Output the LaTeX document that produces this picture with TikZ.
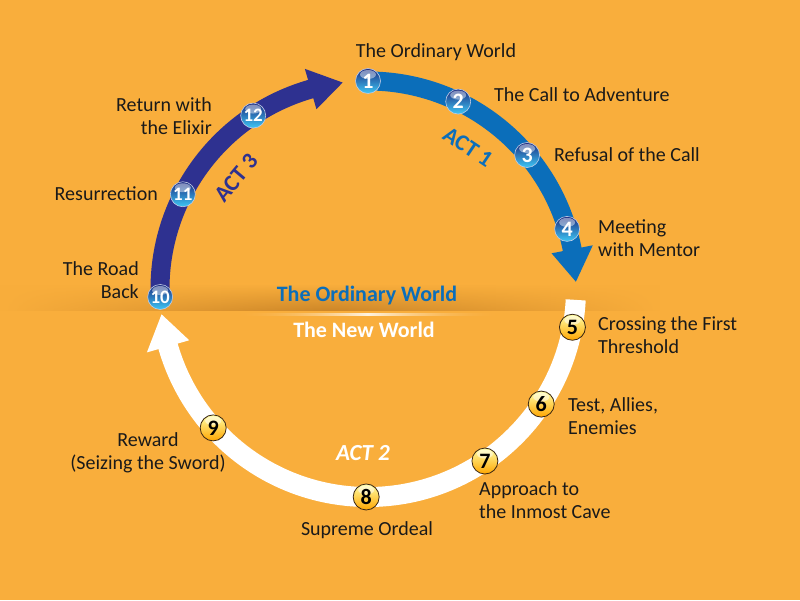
\documentclass[tikz,border=0pt]{standalone}
\usepackage{fontspec}
\setmainfont{Carlito}
\usetikzlibrary{fadings}
\definecolor{bg}{HTML}{F9AE3C}
\definecolor{shadowc}{HTML}{CC8628}
\definecolor{actone}{HTML}{0B6EBA}
\definecolor{actthree}{HTML}{2E3190}
\definecolor{balltop}{HTML}{1C2A80}
\definecolor{ballmid}{HTML}{2F56B0}
\definecolor{ballbot}{HTML}{3EC8F5}
\definecolor{txt}{HTML}{1A1A1A}
\tikzfading[name=fadelr, left color=transparent!100, right color=transparent!100, middle color=transparent!0]
\tikzset{
  lbl/.style={inner sep=0pt, font=\fontsize{20}{23.5}\selectfont, text=txt},
  bluedot/.style={circle, minimum size=25pt, inner sep=0pt, draw=white!70!ballmid, line width=0.6pt,
    top color=balltop, middle color=ballmid, bottom color=ballbot,
    font=\fontsize{22}{22}\selectfont\bfseries, text=white,
    path picture={\fill[white,opacity=0.45] ([yshift=-6pt]path picture bounding box.north) ellipse (8pt and 4.5pt);}},
  twodigit/.style={font=\fontsize{19}{19}\selectfont\bfseries},
  golddot/.style={circle, minimum size=26pt, inner sep=0pt, draw=black!70!brown, line width=0.8pt,
    top color=yellow!35!white, middle color=yellow!80!orange, bottom color=orange!70!yellow,
    font=\fontsize{22}{22}\selectfont\bfseries, text=black,
    path picture={\fill[white,opacity=0.5] ([yshift=-6pt]path picture bounding box.north) ellipse (8pt and 4.5pt);}},
  band/.style={line width=19pt},
  actlbl/.style={inner sep=0pt, font=\fontsize{23}{23}\selectfont\bfseries},
}
\begin{document}
\begin{tikzpicture}[x=1pt,y=1pt]
\fill[bg] (0,0) rectangle (800,600);
\useasboundingbox (0,0) rectangle (800,600);
\coordinate (C) at (368,311);
% horizon shadow
\shade[top color=bg, bottom color=shadowc, path fading=fadelr] (0,289) rectangle (660,316);
\shade[left color=bg, right color=bg, middle color=white!85!bg, path fading=fadelr] (230,284.2) rectangle (505,286);
% act bands
\draw[band, actone] ([shift={(90:208)}]C) arc[start angle=90, end angle=10.5, radius=208];
\fill[actone] ([shift={(11:229)}]C) -- ([shift={(2:208)}]C) -- ([shift={(11:187)}]C) -- cycle;
\draw[band, actthree] ([shift={(182:208)}]C) arc[start angle=182, end angle=105.5, radius=208];
\fill[actthree] ([shift={(106:229)}]C) -- ([shift={(97:208)}]C) -- ([shift={(106:187)}]C) -- cycle;
\draw[line width=20pt, white] ([shift={(-3:208)}]C) arc[start angle=-3, end angle=-164.5, radius=208];
\fill[white] ([shift={(-164:230)}]C) -- ([shift={(-173:208)}]C) -- ([shift={(-164:186)}]C) -- cycle;
% world labels
\node[inner sep=0pt, font=\fontsize{22}{22}\selectfont\bfseries, text=actone] (ow) at (367,304) {The Ordinary World};
\node[inner sep=0pt, font=\fontsize{22}{22}\selectfont\bfseries, text=white] (nw) at (364,270) {The New World};
% act labels
\node[actlbl, text=actone, rotate=-34] (a1) at (468,453) {ACT 1};
\node[actlbl, text=white, font=\fontsize{23}{23}\selectfont\bfseries\itshape] (a2) at (363,147) {ACT 2};
\node[actlbl, text=actthree, rotate=50] (a3) at (236,422) {ACT 3};
% stage dots
\node[bluedot] (n1) at ([shift={(90:208)}]C) {1};
\node[bluedot] (n2) at ([shift={(64.3:208)}]C) {2};
\node[bluedot] (n3) at ([shift={(40.1:208)}]C) {3};
\node[bluedot] (n4) at ([shift={(16.8:208)}]C) {4};
\node[golddot] (n5) at ([shift={(-10.6:208)}]C) {5};
\node[golddot] (n6) at ([shift={(-33.6:208)}]C) {6};
\node[golddot] (n7) at ([shift={(-55.8:208)}]C) {7};
\node[golddot] (n8) at ([shift={(-90.5:208)}]C) {8};
\node[golddot] (n9) at ([shift={(221.9:208)}]C) {9};
\node[bluedot, twodigit] (n10) at ([shift={(182.2:208)}]C) {10};
\node[bluedot, twodigit] (n11) at ([shift={(152.9:208)}]C) {11};
\node[bluedot, twodigit] (n12) at ([shift={(123.5:208)}]C) {12};
% stage labels
\node[lbl] (l1) at (436,548) {The Ordinary World};
\node[lbl, anchor=west] (l2) at (494,505) {The Call to Adventure};
\node[lbl, anchor=west] (l3) at (554,445) {Refusal of the Call};
\node[lbl, anchor=west, align=left] (l4) at (598,362) {Meeting\\with Mentor};
\node[lbl, anchor=west, align=left] (l5) at (598,265) {Crossing the First\\Threshold};
\node[lbl, anchor=west, align=left] (l6) at (568,184) {Test, Allies,\\Enemies};
\node[lbl, anchor=west, align=left] (l7) at (479,100) {Approach to\\the Inmost Cave};
\node[lbl] (l8) at (367,70) {Supreme Ordeal};
\node[lbl, align=center] (l9) at (148,147) {Reward\\(Seizing the Sword)};
\node[lbl, anchor=east, align=right] (l10) at (139,320) {The Road\\Back};
\node[lbl, anchor=east] (l11) at (158,406) {Resurrection};
\node[lbl, anchor=east, align=right] (l12) at (212,484) {Return with\\the Elixir};
\end{tikzpicture}
\end{document}
